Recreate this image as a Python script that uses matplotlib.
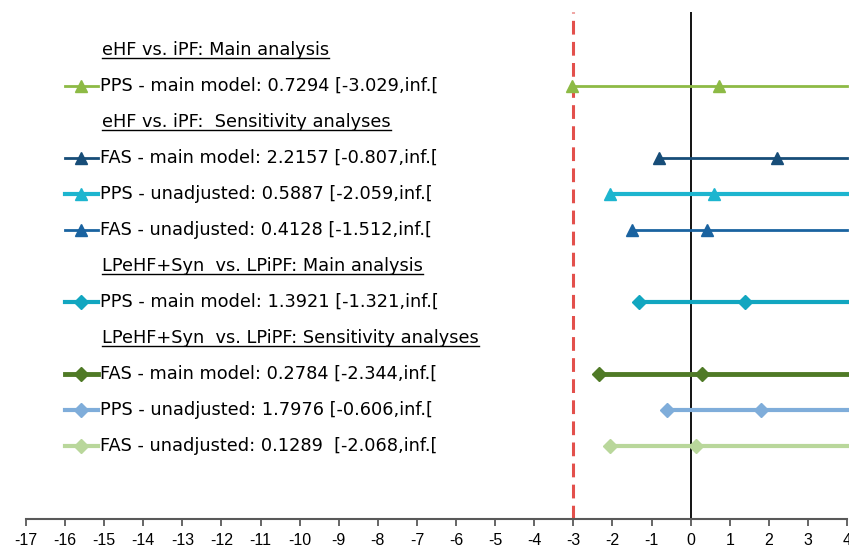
import numpy as np
import matplotlib
matplotlib.use("Agg")
import matplotlib.pyplot as plt
import matplotlib.transforms as mtransforms
from matplotlib.lines import Line2D

plt.rcParams['font.family'] = ['Liberation Sans', 'DejaVu Sans']
plt.rcParams['axes.unicode_minus'] = False

# header rows (underlined group titles)
headers = [
    "eHF vs. iPF: Main analysis",
    "eHF vs. iPF:  Sensitivity analyses",
    "LPeHF+Syn  vs. LPiPF: Main analysis",
    "LPeHF+Syn  vs. LPiPF: Sensitivity analyses",
]
header_rows = [0, 2, 6, 8]

# series
labels = [
    "PPS - main model: 0.7294 [-3.029,inf.[",
    "FAS - main model: 2.2157 [-0.807,inf.[",
    "PPS - unadjusted: 0.5887 [-2.059,inf.[",
    "FAS - unadjusted: 0.4128 [-1.512,inf.[",
    "PPS - main model: 1.3921 [-1.321,inf.[",
    "FAS - main model: 0.2784 [-2.344,inf.[",
    "PPS - unadjusted: 1.7976 [-0.606,inf.[",
    "FAS - unadjusted: 0.1289  [-2.068,inf.[",
]
series_rows = [1, 3, 4, 5, 7, 9, 10, 11]
estimates = [0.7294, 2.2157, 0.5887, 0.4128, 1.3921, 0.2784, 1.7976, 0.1289]
lower = [-3.029, -0.807, -2.059, -1.512, -1.321, -2.344, -0.606, -2.068]
colors = ["#8DBA45", "#174D78", "#1DB5CF", "#1A63A0",
          "#12A6C0", "#4F7A26", "#7FADDA", "#B9D79B"]
markers = ["^", "^", "^", "^", "D", "D", "D", "D"]
widths = [2.0, 2.0, 3.0, 2.0, 3.0, 3.5, 3.0, 3.0]

margin = -3
xmin, xmax = -17, 4

label_font = ['DejaVu Sans']

fig = plt.figure(figsize=(8.49, 5.47), dpi=100)
ax = fig.add_axes([26 / 849, 28 / 547, 821 / 849, 507 / 547])
ax.set_xlim(xmin, xmax)
ax.set_ylim(13.03, -1.056)

ax.axvline(0, color="black", lw=1.3, zorder=1)
ax.axvline(margin, color="#E3504C", lw=2.2, ls=(0, (4.5, 2.4)), zorder=1)

trans = mtransforms.blended_transform_factory(ax.transAxes, ax.transData)
for lab, row, est, lo, c, m, w in zip(labels, series_rows, estimates, lower,
                                       colors, markers, widths):
    ms = 9 if m == "^" else 7
    ax.plot([lo, xmax], [row, row], color=c, lw=w, zorder=3, clip_on=False)
    ax.plot([lo, est], [row, row], ls="none", marker=m, ms=ms, color=c,
            zorder=4, clip_on=False)
    # legend-like sample and label
    ax.add_line(Line2D([0.0475, 0.0877], [row, row], transform=trans,
                       color=c, lw=w))
    ax.plot([0.0676], [row], transform=trans, marker=m, ms=ms, color=c)
    ax.text(0.0905, row, lab, transform=trans, va="center", ha="left",
            fontsize=12.8, family=label_font, color="black")

head_texts = []
for h, row in zip(headers, header_rows):
    t = ax.text(0.0928, row, h, transform=trans, va="center", ha="left",
                fontsize=12.8, family=label_font, color="black")
    head_texts.append(t)

for side in ["left", "right", "top"]:
    ax.spines[side].set_visible(False)
ax.spines["bottom"].set_color("#595959")
ax.spines["bottom"].set_linewidth(1.5)
ax.set_yticks([])
ax.set_xticks(np.arange(xmin, xmax + 1, 1))
ax.tick_params(axis="x", direction="out", length=5, width=1.3,
               color="#595959", labelsize=11.5, pad=5)

# underline headers
fig.canvas.draw()
r = fig.canvas.get_renderer()
inv = fig.transFigure.inverted()
for t in head_texts:
    bb = t.get_window_extent(r)
    (x0, y0), (x1, _) = inv.transform([[bb.x0, bb.y0 + 1], [bb.x1, bb.y0 + 1]])
    fig.add_artist(Line2D([x0, x1], [y0, y0], color="black", lw=1.0))

fig.savefig("out.png", dpi=100)
